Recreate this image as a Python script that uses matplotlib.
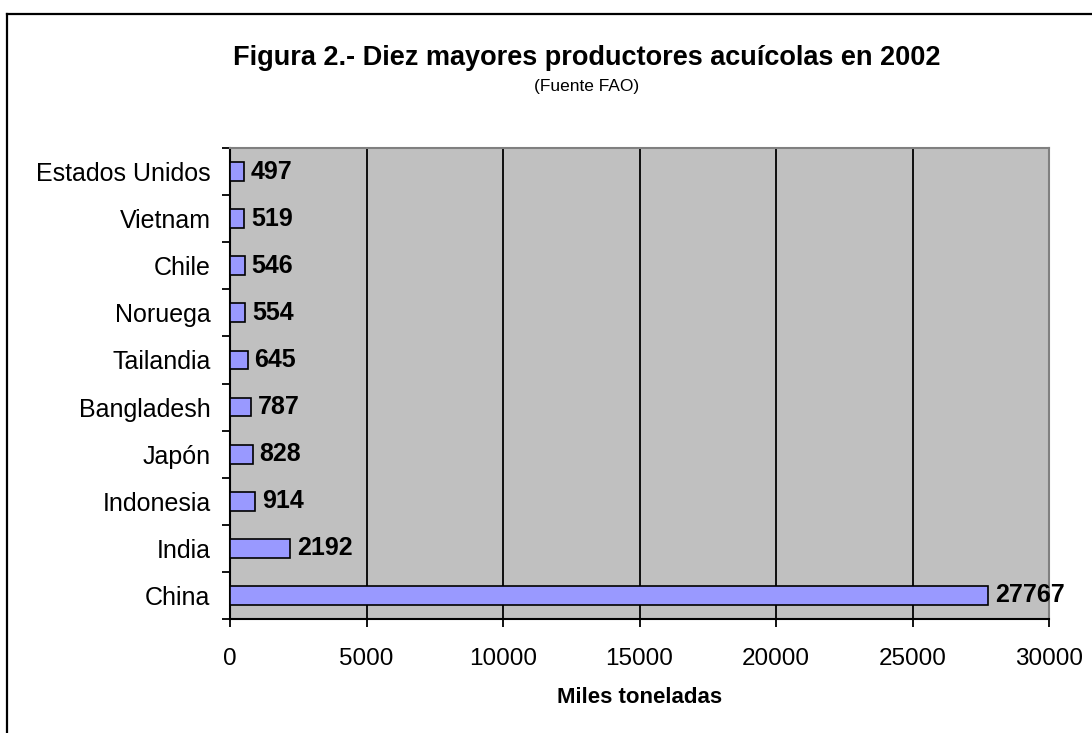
import matplotlib.pyplot as plt
from matplotlib.lines import Line2D

plt.rcParams['font.family'] = ['Liberation Sans', 'DejaVu Sans']

# data (bottom to top as drawn)
paises = ["China", "India", "Indonesia", "Japón", "Bangladesh",
          "Tailandia", "Noruega", "Chile", "Vietnam", "Estados Unidos"]
valores = [27767, 2192, 914, 828, 787, 645, 554, 546, 519, 497]
xticks = [0, 5000, 10000, 15000, 20000, 25000, 30000]

W, H = 1092, 733
fig = plt.figure(figsize=(W / 100, H / 100), dpi=100)

# outer frame: only top and left edges are visible
fig.add_artist(Line2D([7 / W, 1], [1 - 14 / H, 1 - 14 / H], color="black", lw=1.6,
                      transform=fig.transFigure))
fig.add_artist(Line2D([7 / W, 7 / W], [0, 1 - 14 / H], color="black", lw=1.6,
                      transform=fig.transFigure))

ax = fig.add_axes([230 / W, 1 - 619 / H, (1049 - 230) / W, (619 - 148) / H])
ax.set_facecolor("#C0C0C0")

pos = list(range(len(paises)))
ax.barh(pos, valores, height=0.4, color="#9999FF", edgecolor="black", lw=1.2, zorder=3)

for y, v in zip(pos, valores):
    ax.text(v + 250, y, str(v), va="center", ha="left", fontsize=18,
            fontweight="bold", zorder=4)

ax.set_xlim(0, 30000)
ax.set_ylim(-0.5, len(paises) - 0.5)
ax.set_xticks(xticks)
ax.set_xticklabels([str(t) for t in xticks], fontsize=17.5)
ax.set_yticks(pos)
ax.set_yticklabels(paises, fontsize=18)
ax.set_yticks([p - 0.5 for p in pos] + [len(paises) - 0.5], minor=True)
ax.tick_params(axis="y", which="major", length=0, pad=14)
ax.tick_params(axis="y", which="minor", length=6, width=1.3, direction="out")
ax.tick_params(axis="x", length=6, width=1.3, direction="out", pad=15)

ax.grid(axis="x", color="black", lw=1.3, zorder=1)
ax.set_axisbelow(True)

for s in ["top", "right"]:
    ax.spines[s].set_color("#808080")
    ax.spines[s].set_linewidth(1.5)
for s in ["left", "bottom"]:
    ax.spines[s].set_color("black")
    ax.spines[s].set_linewidth(1.5)

ax.set_xlabel("Miles toneladas", fontsize=16, fontweight="bold", labelpad=12)

fig.text(0.537, 1 - 58 / H, "Figura 2.- Diez mayores productores acuícolas en 2002",
         ha="center", va="center", fontsize=19.5, fontweight="bold")
fig.text(0.537, 1 - 87 / H, "(Fuente FAO)", ha="center", va="center", fontsize=12.5)

fig.savefig("out.png", dpi=100)
